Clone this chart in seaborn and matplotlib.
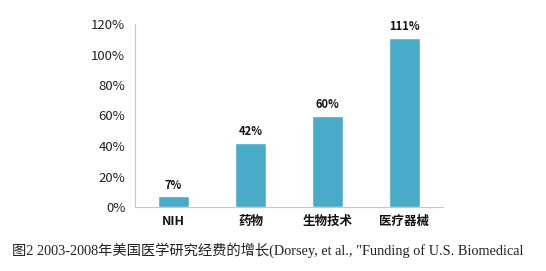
import matplotlib
matplotlib.use("Agg")
import matplotlib.pyplot as plt
import seaborn as sns
import pandas as pd

categories = ["NIH", "药物", "生物技术", "医疗器械"]
values = [7, 42, 60, 111]
value_labels = ["7%", "42%", "60%", "111%"]
yticks = [0, 20, 40, 60, 80, 100, 120]
ytick_labels = ["0%", "20%", "40%", "60%", "80%", "100%", "120%"]
caption = "图2 2003-2008年美国医学研究经费的增长(Dorsey, et al., \"Funding of U.S. Biomedical"

sns.set_theme(style="white")
plt.rcParams['font.family'] = ['Noto Sans CJK SC', 'DejaVu Sans']

df = pd.DataFrame({"cat": categories, "val": values})

fig = plt.figure(figsize=(5.46, 2.71), dpi=100)
ax = fig.add_axes([135/546, 1-207/271, (443-135)/546, (207-24)/271])
sns.barplot(data=df, x="cat", y="val", color="#4AABC8", width=0.39, saturation=1, ax=ax)
ax.set_xlim(-0.5, 3.5)
ax.set_ylim(0, 120)
ax.set_yticks(yticks)
ax.set_yticklabels(ytick_labels, fontsize=9.5, color="#222222")
ax.set_xlabel("")
ax.set_ylabel("")
for lab in ax.get_xticklabels():
    lab.set_fontweight("bold")
    lab.set_fontsize(9)
    lab.set_color("#111111")
for i, (v, t) in enumerate(zip(values, value_labels)):
    ax.text(i, v + 3, t, ha="center", va="bottom", fontsize=8, fontweight="bold", color="#111111")
for s in ["top", "right"]:
    ax.spines[s].set_visible(False)
for s in ["left", "bottom"]:
    ax.spines[s].set_color("#c8c8c8")
    ax.spines[s].set_linewidth(0.8)
ax.tick_params(axis="y", length=3, color="#c8c8c8", pad=4)
ax.tick_params(axis="x", length=0, pad=6)
fig.text(12/546, 1-250/271, caption, fontsize=10.3, va="center", ha="left", color="#222222",
         family=['Liberation Serif', 'Noto Sans CJK SC'])
fig.savefig("out.png", dpi=100)
